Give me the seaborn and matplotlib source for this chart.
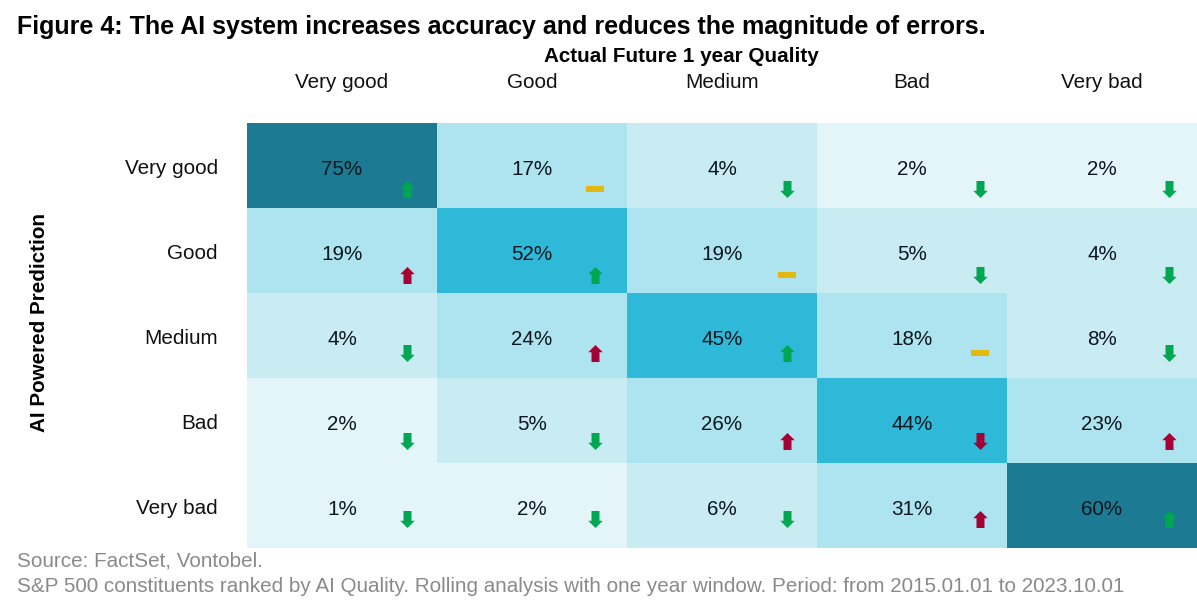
import numpy as np
import matplotlib
matplotlib.use('Agg')
import matplotlib.pyplot as plt
import seaborn as sns
from matplotlib.colors import ListedColormap, BoundaryNorm
from matplotlib.path import Path
from matplotlib.transforms import ScaledTranslation

actual = ['Very good', 'Good', 'Medium', 'Bad', 'Very bad']
predicted = ['Very good', 'Good', 'Medium', 'Bad', 'Very bad']

values = [
    [75, 17, 4, 2, 2],
    [19, 52, 19, 5, 4],
    [4, 24, 45, 18, 8],
    [2, 5, 26, 44, 23],
    [1, 2, 6, 31, 60],
]

# u = up, d = down, f = flat; g/r/y = colour of the marker
changes = [
    ['ug', 'fy', 'dg', 'dg', 'dg'],
    ['ur', 'ug', 'fy', 'dg', 'dg'],
    ['dg', 'ur', 'ug', 'fy', 'dg'],
    ['dg', 'dg', 'ur', 'dr', 'ur'],
    ['dg', 'dg', 'dg', 'ur', 'ug'],
]

bin_edges = [0, 3, 10, 40, 55, 100]
bin_colors = ['#e3f5f9', '#c9ecf3', '#aee4ef', '#2fb9d8', '#1c7b93']
marker_colors = {'g': '#00a651', 'r': '#a50034', 'y': '#e3b90f'}

title = 'Figure 4: The AI system increases accuracy and reduces the magnitude of errors.'
note = ('Source: FactSet, Vontobel.\n'
        'S&P 500 constituents ranked by AI Quality. Rolling analysis with one year window. '
        'Period: from 2015.01.01 to 2023.10.01')

# marker placement inside a cell
col_offset = [0.84, 0.83, 0.84, 0.86, 0.85]
row_offset = [0.78, 0.79, 0.70, 0.74, 0.66]

up_arrow = Path([(-0.47, -1), (0.47, -1), (0.47, 0.15), (0.85, 0.15), (0, 1), (-0.85, 0.15), (-0.47, 0.15), (-0.47, -1)], closed=True)
down_arrow = Path([(-0.47, 1), (0.47, 1), (0.47, -0.15), (0.85, -0.15), (0, -1), (-0.85, -0.15), (-0.47, -0.15), (-0.47, 1)], closed=True)
flat_bar = Path([(-1, -0.33), (1, -0.33), (1, 0.33), (-1, 0.33), (-1, -0.33)], closed=True)
shapes = {'u': up_arrow, 'd': down_arrow, 'f': flat_bar}

sns.set_theme(style='white')
plt.rcParams['font.family'] = ['Liberation Sans', 'DejaVu Sans']

W, H = 1197, 610
fig = plt.figure(figsize=(W / 100, H / 100), dpi=100)
ax = fig.add_axes([247 / W, (H - 548) / H, 950 / W, 425 / H])

data = np.array(values)
labels = np.array([[f'{v}%' for v in row] for row in values])
sns.heatmap(data, ax=ax, cmap=ListedColormap(bin_colors), norm=BoundaryNorm(bin_edges, len(bin_colors)),
            annot=labels, fmt='', cbar=False, xticklabels=actual, yticklabels=predicted,
            annot_kws={'fontsize': 14.9, 'color': '#0b1620'})

# annotations sit a little below the cell centre
for t in ax.texts:
    t.set_y(t.get_position()[1] + 0.05)

for i, row in enumerate(changes):
    for j, code in enumerate(row):
        ax.scatter(j + col_offset[j], i + row_offset[i], marker=shapes[code[0]],
                   s=150, color=marker_colors[code[1]], linewidths=0, zorder=3, clip_on=False)

ax.xaxis.tick_top()
ax.tick_params(axis='x', length=0, pad=22, labelsize=14.9, labelcolor='#111111', rotation=0)
ax.tick_params(axis='y', length=0, pad=21, labelsize=14.9, labelcolor='#111111', rotation=0)
nudge = ScaledTranslation(0, -2.4 / 72, fig.dpi_scale_trans)
for lab in ax.get_yticklabels():
    lab.set_va('center')
    lab.set_transform(lab.get_transform() + nudge)

fig.text(17 / W, 1 - 27 / H, title, fontsize=18, fontweight='bold', color='black', va='center', ha='left')
fig.text(681 / W, 1 - 57 / H, 'Actual Future 1 year Quality', fontsize=14.9, fontweight='bold', color='black', va='center', ha='center')
fig.text(40 / W, 1 - 323 / H, 'AI Powered Prediction', fontsize=14.9, fontweight='bold', color='black', va='center', ha='center', rotation=90)
fig.text(17 / W, 1 - 574 / H, note, fontsize=14.9, color='#8a8a8a', va='center', ha='left', linespacing=1.42)

fig.savefig('out.png', dpi=100)
